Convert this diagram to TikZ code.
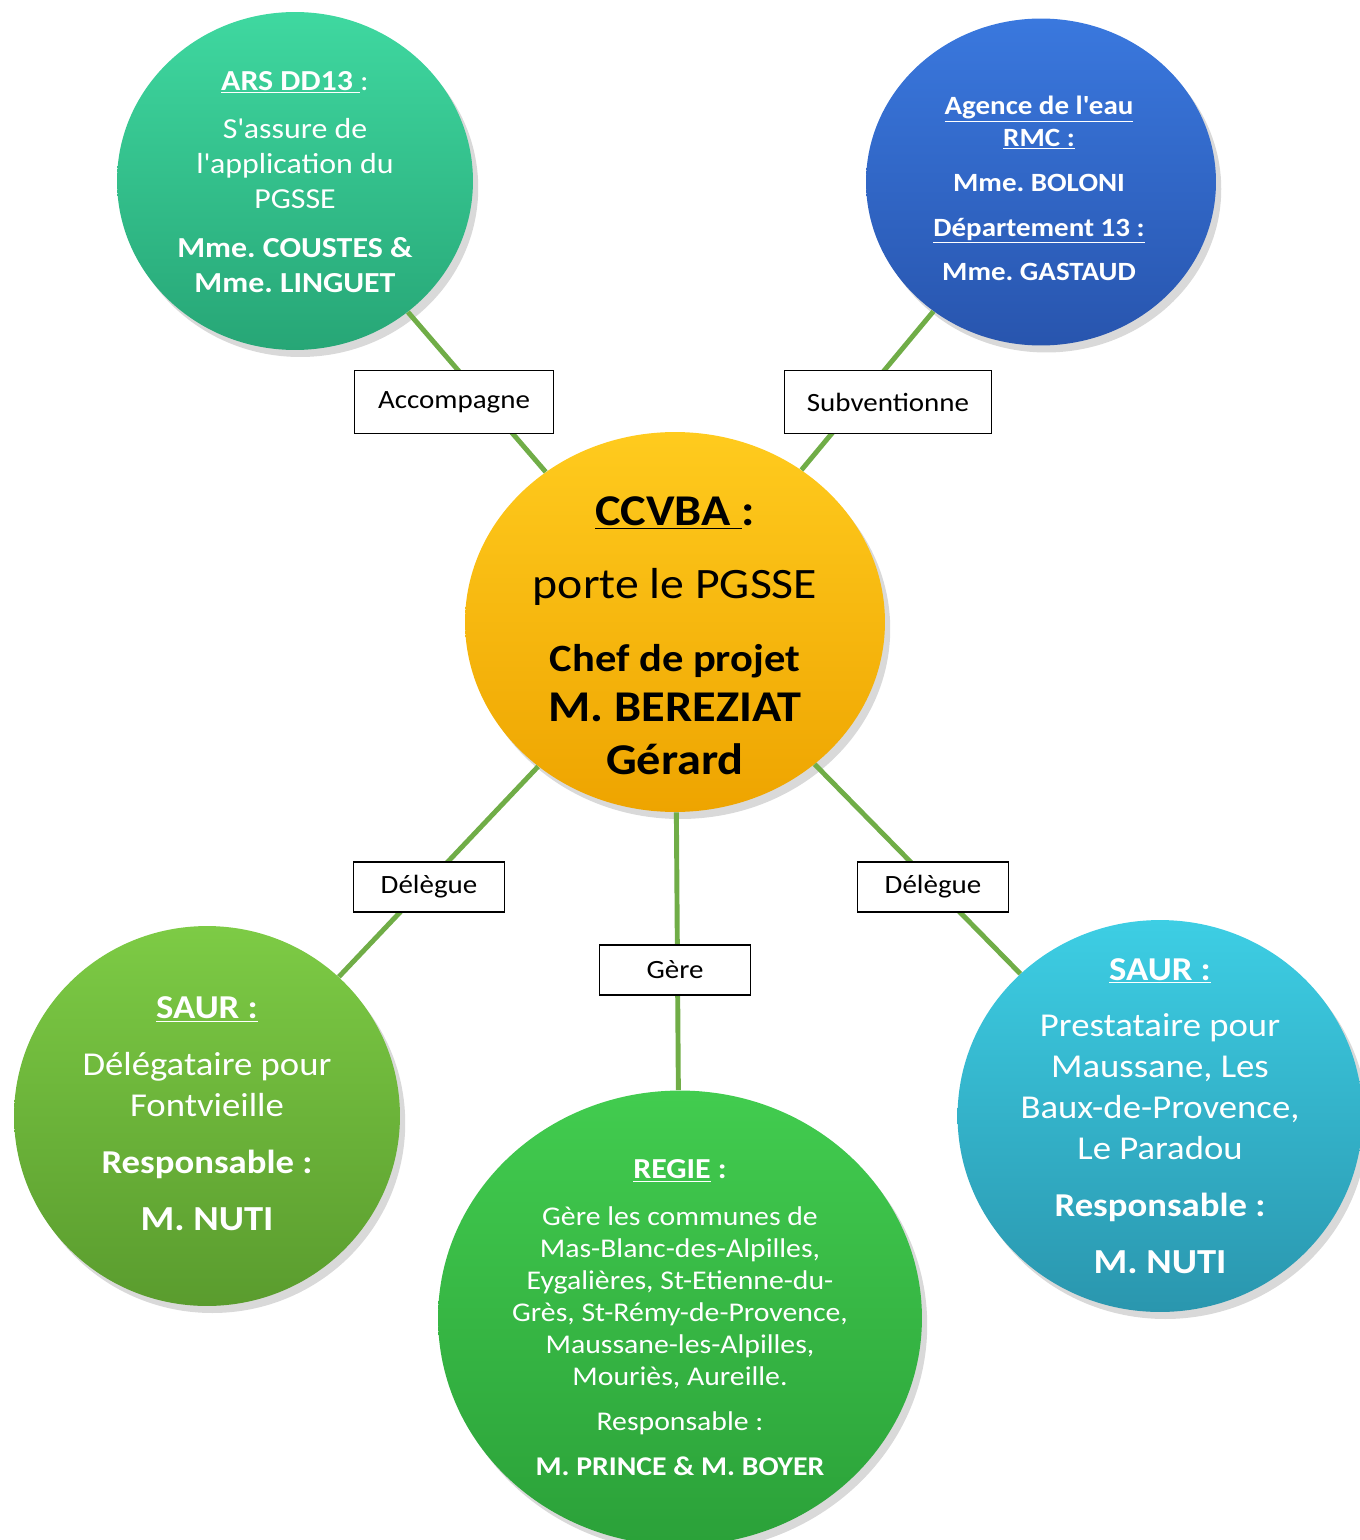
\documentclass[tikz,border=0pt]{standalone}
\usepackage{fontspec}
\setmainfont{Carlito}[FakeStretch=1.1]
\usetikzlibrary{shapes, shadows}
\frenchspacing

\definecolor{linkgreen}{HTML}{70AD47}
\definecolor{arsTop}{HTML}{3FD8A0}
\definecolor{arsBot}{HTML}{27A676}
\definecolor{eauTop}{HTML}{3A78DE}
\definecolor{eauBot}{HTML}{2855AE}
\definecolor{ccvTop}{HTML}{FFCB1E}
\definecolor{ccvBot}{HTML}{EEA400}
\definecolor{saurgTop}{HTML}{7DCB45}
\definecolor{saurgBot}{HTML}{5A9C2E}
\definecolor{regTop}{HTML}{42CC4F}
\definecolor{regBot}{HTML}{2BA139}
\definecolor{saurbTop}{HTML}{3DCEE4}
\definecolor{saurbBot}{HTML}{2A96AE}

\newcommand{\fsz}[1]{\fontsize{#1}{#1}\selectfont}
\newcommand{\apos}{\textquotesingle}

\begin{document}
\begin{tikzpicture}[x=0.02cm, y=-0.02cm,
    bubble/.style={ellipse, inner sep=0pt, drop shadow={shadow xshift=3pt, shadow yshift=-4pt, opacity=.3}},
    blurb/.style={align=center, text=white, inner sep=0pt},
    tag/.style={draw, line width=.8pt, fill=white, inner sep=0pt, font=\fsz{15}},
    link/.style={draw=linkgreen, line width=2.8pt}]
  \useasboundingbox (0,0) rectangle (1359,1540);

  \node[bubble, top color=arsTop, bottom color=arsBot, minimum width=7.12cm, minimum height=6.76cm] (ars) at (295,181) {};
  \node[bubble, top color=eauTop, bottom color=eauBot, minimum width=7.0cm, minimum height=6.54cm] (eau) at (1041,182) {};
  \node[bubble, top color=ccvTop, bottom color=ccvBot, minimum width=8.4cm, minimum height=7.6cm] (ccvba) at (675,622) {};
  \node[bubble, top color=saurgTop, bottom color=saurgBot, minimum width=7.72cm, minimum height=7.6cm] (saur-l) at (207,1116) {};
  \node[bubble, top color=regTop, bottom color=regBot, minimum width=9.68cm, minimum height=9.1cm] (regie) at (680,1318) {};
  \node[bubble, top color=saurbTop, bottom color=saurbBot, minimum width=8.1cm, minimum height=7.84cm] (saur-r) at (1160,1116) {};

  \path[link]
    (ars) edge (ccvba)
    (eau) edge (ccvba)
    (ccvba) edge (saur-l)
    (ccvba) edge (regie)
    (ccvba) edge (saur-r)
  ;

  \node[blurb, font=\fontsize{16.5}{20}\selectfont] (ars-t) at (295,182)
    {\textbf{\underline{ARS DD13\ }}:\\[7.3pt] S\apos assure de\\ l\apos application du\\ PGSSE\\[8pt]
     \textbf{Mme. COUSTES \&}\\ \textbf{Mme. LINGUET}};
  \node[blurb, font=\fontsize{15}{18.2}\selectfont\bfseries] (eau-t) at (1039,188)
    {\underline{Agence de l\apos eau}\\ \underline{RMC :}\\[7.4pt] Mme. BOLONI\\[7.4pt]
     \underline{Département 13 :}\\[6.8pt] Mme. GASTAUD};
  \node[blurb, text=black, font=\fontsize{24}{28.5}\selectfont] (ccvba-t) at (675,636)
    {{\fsz{25}\bfseries\underline{CCVBA\ }:}\\[13pt] {\fsz{24.7}porte le PGSSE}\\[13pt]
     {\fsz{22}\bfseries Chef de projet}\\ {\fsz{25}\bfseries M. BEREZIAT}\\[1.5pt] {\fsz{25}\bfseries Gérard}};
  \node[blurb, font=\fontsize{19}{23.3}\selectfont] (saur-l-t) at (207,1114)
    {\textbf{\underline{SAUR :}}\\[9.1pt] Délégataire pour\\ Fontvieille\\[9.1pt]
     \textbf{Responsable :}\\[9.1pt] {\fsz{20}\bfseries M. NUTI}};
  \node[blurb, font=\fontsize{19}{23.3}\selectfont] (saur-r-t) at (1160,1116)
    {\textbf{\underline{SAUR :}}\\[9.1pt] Prestataire pour\\ Maussane, Les\\ Baux-de-Provence,\\ Le Paradou\\[9.1pt]
     \textbf{Responsable :}\\[9.1pt] {\fsz{20}\bfseries M. NUTI}};
  \node[blurb, font=\fontsize{15.4}{18.3}\selectfont] (regie-t) at (680,1318)
    {{\fsz{16.5}\textbf{\underline{REGIE}} \textbf{:}}\\[8pt] Gère les communes de\\ Mas-Blanc-des-Alpilles,\\
     Eygalières, St-Etienne-du-\\ Grès, St-Rémy-de-Provence,\\ Maussane-les-Alpilles,\\ Mouriès, Aureille.\\[7.3pt]
     Responsable :\\[7.3pt] \textbf{M. PRINCE \& M. BOYER}};

  \node[tag, minimum width=3.98cm, minimum height=1.26cm] (accompagne) at (454,402) {Accompagne};
  \node[tag, minimum width=4.14cm, minimum height=1.26cm] (subventionne) at (888,402) {Subventionne};
  \node[tag, minimum width=3.02cm, minimum height=1cm] (delegue-l) at (429,887) {Délègue};
  \node[tag, minimum width=3.02cm, minimum height=1cm] (gere) at (675,970) {Gère};
  \node[tag, minimum width=3.02cm, minimum height=1cm] (delegue-r) at (933,887) {Délègue};
\end{tikzpicture}
\end{document}
